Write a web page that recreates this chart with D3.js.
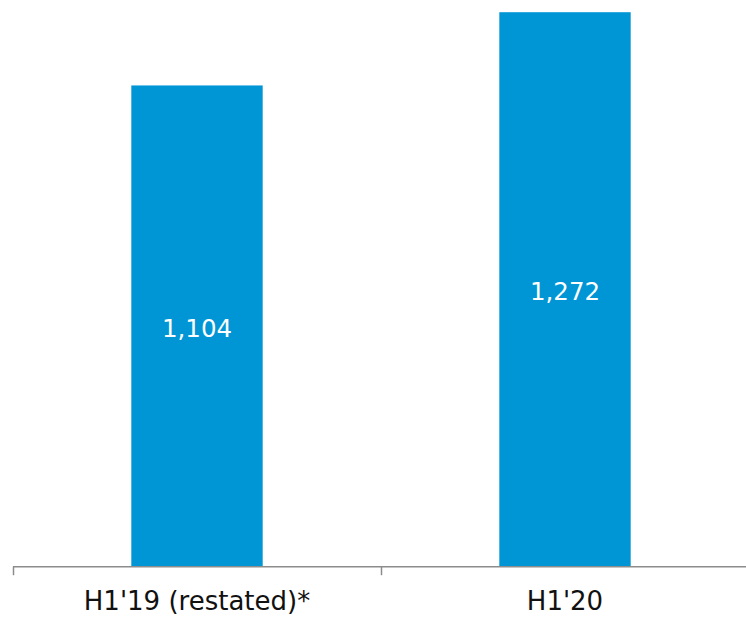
<!DOCTYPE html>
<html>
<head>
<meta charset="utf-8">
<script src="https://cdn.jsdelivr.net/npm/d3@7"></script>
<style>
  html, body { margin: 0; padding: 0; background: #fff; }
  svg { display: block; }
</style>
</head>
<body>
<script>
// Half-year figures
const categories = ["H1'19 (restated)*", "H1'20"];
const values = [1104, 1272];
const valueLabels = ["1,104", "1,272"];

const width = 746, height = 617;
const baseY = 566.7;

const svg = d3.select("body").append("svg")
  .attr("width", width)
  .attr("height", height);

const x = d3.scaleBand()
  .domain(categories)
  .range([13, 749])
  .paddingInner(0.643)
  .paddingOuter(0.3215);

const y = d3.scaleLinear()
  .domain([0, 1300])
  .range([baseY, 0]);

const font = "'DejaVu Sans', Verdana, sans-serif";

// Bars
svg.selectAll("rect.bar")
  .data(values)
  .join("rect")
  .attr("class", "bar")
  .attr("x", (d, i) => x(categories[i]))
  .attr("width", x.bandwidth())
  .attr("y", d => y(d))
  .attr("height", d => baseY - y(d))
  .attr("fill", "#0096d6");

// Value labels inside the bars
svg.selectAll("text.val")
  .data(values)
  .join("text")
  .attr("class", "val")
  .attr("x", (d, i) => x(categories[i]) + x.bandwidth() / 2)
  .attr("y", d => (y(d) + baseY) / 2 + 2)
  .attr("dy", "0.36em")
  .attr("text-anchor", "middle")
  .attr("font-family", font)
  .attr("font-size", 24.5)
  .attr("fill", "#ffffff")
  .text((d, i) => valueLabels[i]);

// Category axis: baseline, boundary ticks, labels
const axisG = svg.append("g");
axisG.append("line")
  .attr("x1", 13).attr("x2", width)
  .attr("y1", baseY).attr("y2", baseY)
  .attr("stroke", "#8c8c8c")
  .attr("stroke-width", 1.5);

const boundaries = categories.map(c => x(c) - x.step() * x.paddingInner() / 2);
axisG.selectAll("line.tick")
  .data(boundaries)
  .join("line")
  .attr("class", "tick")
  .attr("x1", d => Math.round(d) + 0.5).attr("x2", d => Math.round(d) + 0.5)
  .attr("y1", baseY).attr("y2", baseY + 8.5)
  .attr("stroke", "#8c8c8c")
  .attr("stroke-width", 1.5);

axisG.selectAll("text.cat")
  .data(categories)
  .join("text")
  .attr("class", "cat")
  .attr("x", d => x(d) + x.bandwidth() / 2)
  .attr("y", 610)
  .attr("text-anchor", "middle")
  .attr("font-family", font)
  .attr("font-size", 26)
  .attr("fill", "#111111")
  .text(d => d);
</script>
</body>
</html>
